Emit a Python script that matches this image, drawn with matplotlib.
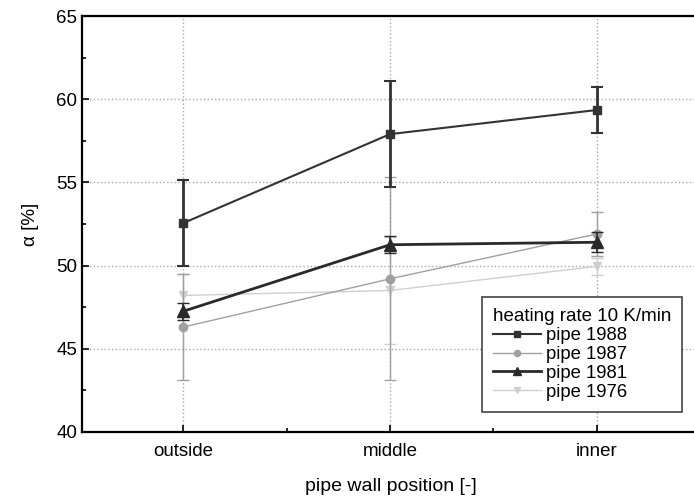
import matplotlib
matplotlib.use('Agg')
import matplotlib.pyplot as plt
from matplotlib.ticker import MultipleLocator
from matplotlib.lines import Line2D

plt.rcParams['font.family'] = ['Liberation Sans', 'DejaVu Sans']

# Daten
posicoes = ['outside', 'middle', 'inner']
x = [0, 1, 2]

pipe_1988 = [52.55, 57.9, 59.35]
err_1988 = [2.6, 3.2, 1.4]

pipe_1987 = [46.3, 49.2, 51.9]
err_1987 = [3.2, 6.1, 1.3]

pipe_1981 = [47.25, 51.25, 51.4]
err_1981 = [0.5, 0.5, 0.6]

pipe_1976 = [48.2, 48.5, 49.95]
err_1976 = [1.3, 3.2, 0.5]

fig = plt.figure(figsize=(6.94, 5.01), dpi=100)
ax = fig.add_axes([0.118, 0.138, 0.891, 0.830])

# Estilos das series
estilos = {
    'pipe 1988': dict(color='#333333', lw=1.5, marker='s', ms=6),
    'pipe 1987': dict(color='#a0a0a0', lw=1.0, marker='o', ms=6),
    'pipe 1981': dict(color='#2a2a2a', lw=2.0, marker='^', ms=8),
    'pipe 1976': dict(color='#cfcfcf', lw=1.0, marker='v', ms=6),
}

ax.errorbar(x, pipe_1976, yerr=err_1976, capsize=4, elinewidth=1.0,
            zorder=3, **estilos['pipe 1976'])
ax.errorbar(x, pipe_1987, yerr=err_1987, capsize=4, elinewidth=1.0,
            zorder=4, **estilos['pipe 1987'])
ax.errorbar(x, pipe_1981, yerr=err_1981, capsize=4, elinewidth=1.2,
            zorder=5, **estilos['pipe 1981'])
ax.errorbar(x, pipe_1988, yerr=err_1988, capsize=4, elinewidth=2.0,
            capthick=1.5, zorder=6, **estilos['pipe 1988'])

ax.set_xlim(-0.49, 2.5)
ax.set_ylim(40, 65)
ax.set_xticks(x)
ax.set_xticklabels(posicoes)
ax.xaxis.set_minor_locator(MultipleLocator(0.5))
ax.yaxis.set_major_locator(MultipleLocator(5))
ax.yaxis.set_minor_locator(MultipleLocator(2.5))
ax.tick_params(which='both', direction='in', top=False, right=False,
               labelsize=13.5, width=1.2)
ax.tick_params(which='major', length=5)
ax.tick_params(which='minor', length=3)
ax.tick_params(axis='x', pad=8)

for s in ax.spines.values():
    s.set_linewidth(1.6)

ax.grid(True, which='major', color='#a8a8a8', linestyle=':', linewidth=1.0)
ax.set_axisbelow(True)

ax.set_xlabel('pipe wall position [-]', fontsize=14, labelpad=13)
ax.set_ylabel('α [%]', fontsize=13.5, labelpad=12)

# Legenda sem barras de erro
nomes = ['pipe 1988', 'pipe 1987', 'pipe 1981', 'pipe 1976']
handles = []
for n in nomes:
    e = dict(estilos[n])
    e['ms'] = e['ms'] * 0.75
    handles.append(Line2D([], [], **e))
leg = ax.legend(handles, nomes, title='heating rate 10 K/min',
                loc='lower right', bbox_to_anchor=(0.986, 0.026),
                fontsize=13.3, title_fontsize=13.5, fancybox=False,
                edgecolor='#444444', framealpha=1.0, borderpad=0.6,
                labelspacing=0.1, handlelength=2.6, handletextpad=0.3,
                borderaxespad=0.5)
leg._legend_box.align = 'left'
leg.get_frame().set_linewidth(1.2)

fig.savefig('out.png', dpi=100)
